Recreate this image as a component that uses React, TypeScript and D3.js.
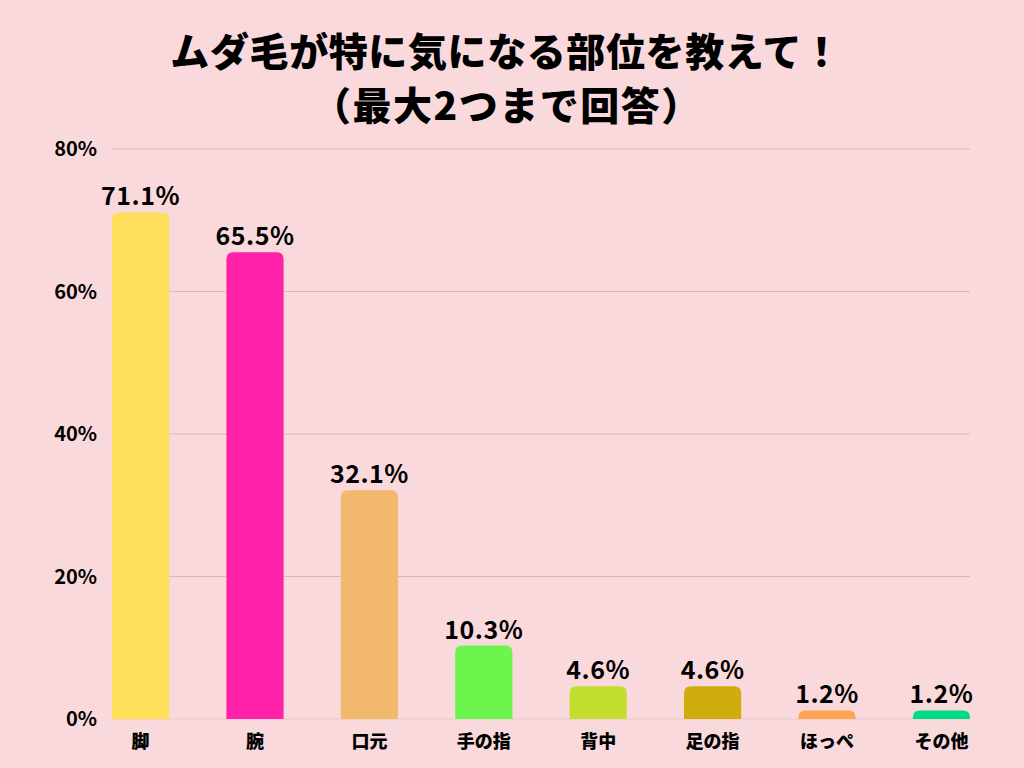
import React from "react";
import * as d3 from "d3";

const categories = ["脚", "腕", "口元", "手の指", "背中", "足の指", "ほっぺ", "その他"];
const values = [71.1, 65.5, 32.1, 10.3, 4.6, 4.6, 1.2, 1.2];
const colors = ["#FFDE59", "#FF22A8", "#F2B96E", "#6CF54C", "#C3DE2E", "#D0AD0F", "#FFA552", "#00DC84"];
const yTicks = [0, 20, 40, 60, 80];
const titleLines = ["ムダ毛が特に気になる部位を教えて！", "（最大2つまで回答）"];

const W = 1024;
const H = 768;
const FONT = "'Noto Sans CJK JP', 'Noto Sans', sans-serif";

function barPath(x: number, y: number, w: number, h: number, r: number) {
  const rr = Math.min(r, h, w / 2);
  return `M${x},${y + h}V${y + rr}Q${x},${y} ${x + rr},${y}H${x + w - rr}Q${x + w},${y} ${x + w},${y + rr}V${y + h}Z`;
}

export default function App() {
  const x = d3.scaleBand<string>().domain(categories).range([112, 970]).paddingInner(0.5).paddingOuter(0);
  const y = d3.scaleLinear().domain([0, 80]).range([719, 149]);
  const bw = x.bandwidth();
  return (
    <svg width={W} height={H} style={{ position: "absolute", left: 0, top: 0, display: "block" }}>
      <rect x={0} y={0} width={W} height={H} fill="#F9D9DC" />
      <text x={506} y={66} textAnchor="middle" fontFamily={FONT} fontWeight={900} fontSize={39} letterSpacing={0.6} fill="#000">
        {titleLines[0]}
      </text>
      <text x={507} y={120} textAnchor="middle" fontFamily={FONT} fontWeight={900} fontSize={39} letterSpacing={1.5} fill="#000">
        {titleLines[1]}
      </text>
      {yTicks.map((t) => (
        <g key={t}>
          <line x1={112} x2={970} y1={y(t)} y2={y(t)} stroke={t === 0 ? "#EBC9CD" : "#D9B8BC"} strokeWidth={1} />
          <text x={97} y={y(t)} dy="0.36em" textAnchor="end" fontFamily={FONT} fontWeight={700} fontSize={20} fill="#000">
            {t}%
          </text>
        </g>
      ))}
      {categories.map((c, i) => {
        const bx = x(c) as number;
        const by = y(values[i]);
        const bh = y(0) - by;
        return (
          <g key={c}>
            <path d={barPath(bx, by, bw, bh, 7)} fill={colors[i]} />
            <text x={bx + bw / 2} y={by - 7} textAnchor="middle" fontFamily={FONT} fontWeight={700} fontSize={25} letterSpacing={0.5} fill="#000">
              {values[i].toFixed(1)}%
            </text>
            <text x={bx + bw / 2} y={748} textAnchor="middle" fontFamily={FONT} fontWeight={900} fontSize={18} fill="#000">
              {c}
            </text>
          </g>
        );
      })}
    </svg>
  );
}
